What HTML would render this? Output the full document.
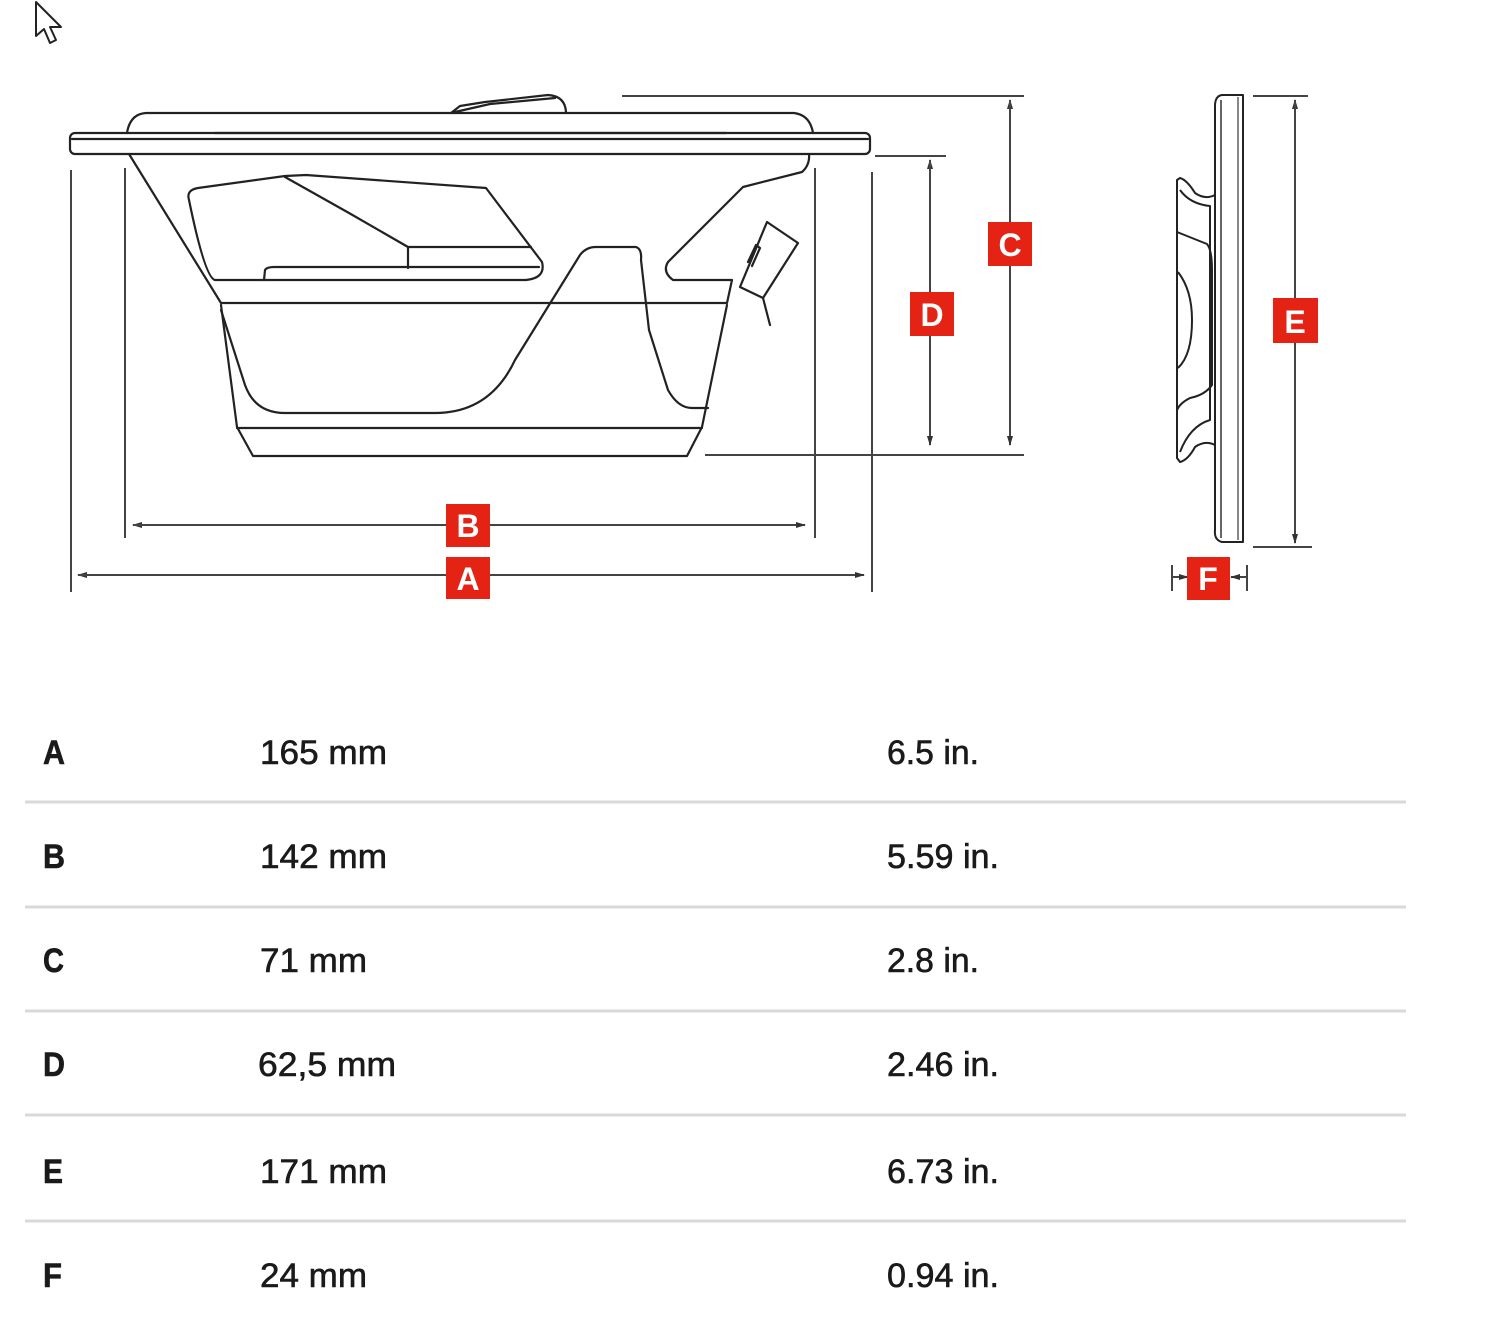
<!DOCTYPE html>
<html><head><meta charset="utf-8"><style>
html,body{margin:0;padding:0;background:#fff;}
svg{display:block;}
text{font-family:"Liberation Sans",sans-serif;}
</style></head><body>
<svg width="1500" height="1325" viewBox="0 0 1500 1325" xmlns="http://www.w3.org/2000/svg">
<defs>
<marker id="ar" markerWidth="10" markerHeight="8" refX="9" refY="4" orient="auto" markerUnits="userSpaceOnUse">
<path d="M0,1 L10,4 L0,7 Z" fill="#333"/></marker>
</defs>
<!-- cursor -->
<path d="M36,2 L36,36 L44,29 L50,43 L56,40 L50,27 L61,27 Z" fill="#fff" stroke="#222" stroke-width="2" stroke-linejoin="round"/>

<g fill="none" stroke="#222" stroke-width="2.2" stroke-linejoin="round" stroke-linecap="round">
<rect x="70" y="133" width="800" height="21" rx="5"/>
<line x1="72" y1="139" x2="868" y2="139"/>
<line x1="215" y1="133" x2="726" y2="133"/>
<path d="M127,133 Q130,114 146,113 L794,113 Q810,115 813,133"/>
<path d="M451,113 L460,106 L485,102 L548,95 Q565,96 566,112"/>
<path d="M455,112 L490,104 L555,98"/>
<path d="M129,154 L221,303 L727,303 L732,280 L673,280 Q662,272 668,262 L743,187 L802,172 Q810,165 809,154"/>
<path d="M221,305 L237,427 L253,456 L687,456 L702,427 L727,305"/>
<line x1="237" y1="428" x2="702" y2="428"/>
<path d="M189,200 Q186,190 198,188 L285,176 L306,175 L486,188 L542,262 Q546,278 526,280 L215,280 Q205,278 189,200 Z"/>
<path d="M285,177 L349,213 L408,247 L408,268"/>
<line x1="408" y1="247" x2="531" y2="247"/>
<path d="M264,280 L265,270 Q267,267 274,267 L539,267"/>
<path d="M221,310 L245,385 Q255,413 285,413 L435,413 Q490,413 515,360 L580,255 Q586,247 596,247 L636,247 Q642,249 641,260 L649,330 L668,390 Q678,408 692,408 L708,408"/>
<path d="M740,287 L767,222 L798,243 L763,298 Z"/>
<path d="M748,262 L756,245 L760,248 L752,266"/>
<path d="M763,298 L770,325"/>
</g>

<g stroke="#444" stroke-width="2" fill="none">
<line x1="71" y1="170" x2="71" y2="592"/>
<line x1="125" y1="168" x2="125" y2="538"/>
<line x1="815" y1="168" x2="815" y2="538"/>
<line x1="872" y1="172" x2="872" y2="592"/>
<line x1="805" y1="525" x2="133" y2="525" marker-end="url(#ar)"/>
<line x1="133" y1="525" x2="805" y2="525" marker-end="url(#ar)"/>
<line x1="864" y1="575" x2="78" y2="575" marker-end="url(#ar)"/>
<line x1="78" y1="575" x2="864" y2="575" marker-end="url(#ar)"/>
<line x1="622" y1="96" x2="1024" y2="96"/>
<line x1="705" y1="455" x2="1024" y2="455"/>
<line x1="1010" y1="445" x2="1010" y2="100" marker-end="url(#ar)"/>
<line x1="1010" y1="100" x2="1010" y2="445" marker-end="url(#ar)"/>
<line x1="875" y1="156" x2="946" y2="156"/>
<line x1="930" y1="445" x2="930" y2="160" marker-end="url(#ar)"/>
<line x1="930" y1="160" x2="930" y2="445" marker-end="url(#ar)"/>
<line x1="1253" y1="96" x2="1308" y2="96"/>
<line x1="1253" y1="547" x2="1312" y2="547"/>
<line x1="1295" y1="543" x2="1295" y2="100" marker-end="url(#ar)"/>
<line x1="1295" y1="100" x2="1295" y2="543" marker-end="url(#ar)"/>
<line x1="1172" y1="565" x2="1172" y2="591"/>
<line x1="1247" y1="565" x2="1247" y2="591"/>
<line x1="1172" y1="577" x2="1188" y2="577" marker-end="url(#ar)"/>
<line x1="1247" y1="577" x2="1231" y2="577" marker-end="url(#ar)"/>
</g>

<g fill="none" stroke="#222" stroke-width="2" stroke-linejoin="round">
<path d="M1222,95 L1243,95 L1243,542 L1222,542 Q1214,540 1215,530 L1215,106 Q1215,96 1222,95 Z"/>
<line x1="1221" y1="100" x2="1221" y2="538" stroke="#666"/>
<line x1="1238" y1="97" x2="1238" y2="540" stroke="#888"/>
<path d="M1215,195 Q1205,200 1195,193 Q1187,180 1180,178 L1177,180 L1177,458 L1180,462 Q1188,460 1195,447 Q1205,440 1215,445"/>
<path d="M1180,190 Q1190,204 1210,206 L1210,420 Q1190,426 1180,452"/>
<path d="M1177,232 Q1192,238 1207,244 Q1212,250 1212,270 L1212,385 Q1205,395 1190,398 Q1180,403 1177,410"/>
<path d="M1178,272 Q1192,290 1192,320 Q1192,355 1178,368"/>
</g>

<g font-weight="bold" font-size="32" fill="#fff" text-anchor="middle">
<rect x="446" y="504" width="44" height="43" fill="#e52315"/><text x="468" y="537">B</text>
<rect x="446" y="557" width="44" height="42" fill="#e52315"/><text x="468" y="590">A</text>
<rect x="988" y="222" width="44" height="44" fill="#e52315"/><text x="1010" y="256">C</text>
<rect x="910" y="292" width="44" height="44" fill="#e52315"/><text x="932" y="326">D</text>
<rect x="1273" y="298" width="45" height="45" fill="#e52315"/><text x="1295" y="333">E</text>
<rect x="1187" y="557" width="43" height="43" fill="#e52315"/><text x="1208" y="590">F</text>
</g>

<g stroke="#d9d9d9" stroke-width="3">
<line x1="25" y1="802" x2="1406" y2="802"/>
<line x1="25" y1="907" x2="1406" y2="907"/>
<line x1="25" y1="1011" x2="1406" y2="1011"/>
<line x1="25" y1="1115" x2="1406" y2="1115"/>
<line x1="25" y1="1221" x2="1406" y2="1221"/>
</g>
<g font-size="34" fill="#1a1a1a" stroke="#1a1a1a" stroke-width="0.6" lengthAdjust="spacingAndGlyphs">
<text x="43" y="764" font-weight="bold" textLength="22" lengthAdjust="spacingAndGlyphs">A</text><text x="260" y="764" textLength="127" lengthAdjust="spacingAndGlyphs">165 mm</text><text x="887" y="764" textLength="92" lengthAdjust="spacingAndGlyphs">6.5 in.</text>
<text x="43" y="868" font-weight="bold" textLength="22" lengthAdjust="spacingAndGlyphs">B</text><text x="260" y="868" textLength="127" lengthAdjust="spacingAndGlyphs">142 mm</text><text x="887" y="868" textLength="112" lengthAdjust="spacingAndGlyphs">5.59 in.</text>
<text x="43" y="972" font-weight="bold" textLength="21" lengthAdjust="spacingAndGlyphs">C</text><text x="260" y="972" textLength="107" lengthAdjust="spacingAndGlyphs">71 mm</text><text x="887" y="972" textLength="92" lengthAdjust="spacingAndGlyphs">2.8 in.</text>
<text x="43" y="1076" font-weight="bold" textLength="22" lengthAdjust="spacingAndGlyphs">D</text><text x="258" y="1076" textLength="138" lengthAdjust="spacingAndGlyphs">62,5 mm</text><text x="887" y="1076" textLength="112" lengthAdjust="spacingAndGlyphs">2.46 in.</text>
<text x="43" y="1183" font-weight="bold" textLength="20" lengthAdjust="spacingAndGlyphs">E</text><text x="260" y="1183" textLength="127" lengthAdjust="spacingAndGlyphs">171 mm</text><text x="887" y="1183" textLength="112" lengthAdjust="spacingAndGlyphs">6.73 in.</text>
<text x="43" y="1287" font-weight="bold" textLength="19" lengthAdjust="spacingAndGlyphs">F</text><text x="260" y="1287" textLength="107" lengthAdjust="spacingAndGlyphs">24 mm</text><text x="887" y="1287" textLength="112" lengthAdjust="spacingAndGlyphs">0.94 in.</text>
</g>
</svg>
</body></html>
